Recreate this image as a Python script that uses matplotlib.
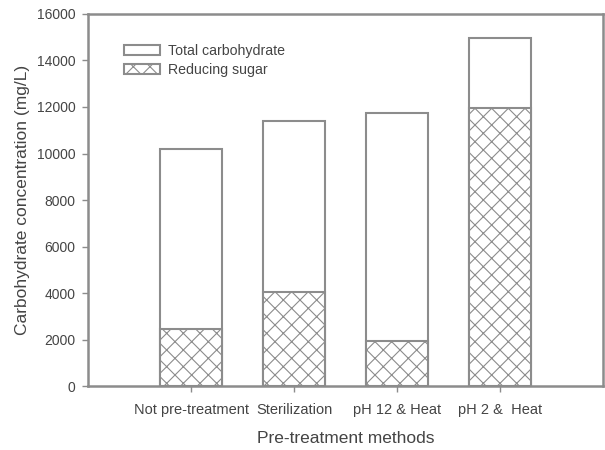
import matplotlib
matplotlib.use("Agg")
import matplotlib.pyplot as plt
import numpy as np

methods = ["Not pre-treatment", "Sterilization", "pH 12 & Heat", "pH 2 &  Heat"]
totalCarbohydrate = [10200, 11400, 11750, 14950]
reducingSugar = [2450, 4050, 1950, 11950]
yTicks = [0, 2000, 4000, 6000, 8000, 10000, 12000, 14000, 16000]

grey = "#8c8c8c"
textGrey = "#444444"
plt.rcParams["hatch.linewidth"] = 0.8
plt.rcParams["hatch.color"] = "#555555"
plt.rcParams["font.family"] = "Liberation Sans"

figure = plt.figure(figsize=(6.05, 4.5), dpi=100)
ax1 = figure.add_axes([0.1455, 0.142, 0.852, 0.827])

positions = np.arange(1, len(methods) + 1)

# total carbohydrate drawn as the full bar, reducing sugar hatched on top of it
ax1.bar(positions, totalCarbohydrate, width=0.6, color="white", edgecolor=grey,
        linewidth=1.5, label="Total carbohydrate", zorder=2)
ax1.bar(positions, reducingSugar, width=0.6, color="white", edgecolor=grey,
        hatch="xx", linewidth=1.5, label="Reducing sugar", zorder=3)

ax1.set_xlim(0, 5)
ax1.set_ylim(0, 16000)
ax1.set_xticks(positions)
ax1.set_xticklabels(methods, fontsize=10.5, color=textGrey)
ax1.set_yticks(yTicks)
ax1.set_yticklabels([str(t) for t in yTicks], fontsize=10, color=textGrey)

for spine in ax1.spines.values():
    spine.set_color(grey)
    spine.set_linewidth(1.8)
ax1.tick_params(axis="both", colors=grey, length=4, width=1)
ax1.tick_params(axis="x", pad=8)
ax1.tick_params(axis="y", pad=5)
ax1.tick_params(axis="both", labelcolor=textGrey)

ax1.set_ylabel("Carbohydrate concentration (mg/L)", fontsize=12.5, color=textGrey, labelpad=5)
ax1.set_xlabel("Pre-treatment methods", fontsize=12.5, color=textGrey, labelpad=10)

legend = ax1.legend(loc="upper left", bbox_to_anchor=(0.058, 0.935), frameon=False,
                    fontsize=10.2, handlelength=2.6, handleheight=0.7,
                    labelspacing=0.35, handletextpad=0.5, borderaxespad=0)
for text in legend.get_texts():
    text.set_color(textGrey)

figure.savefig("out.png", dpi=100)
